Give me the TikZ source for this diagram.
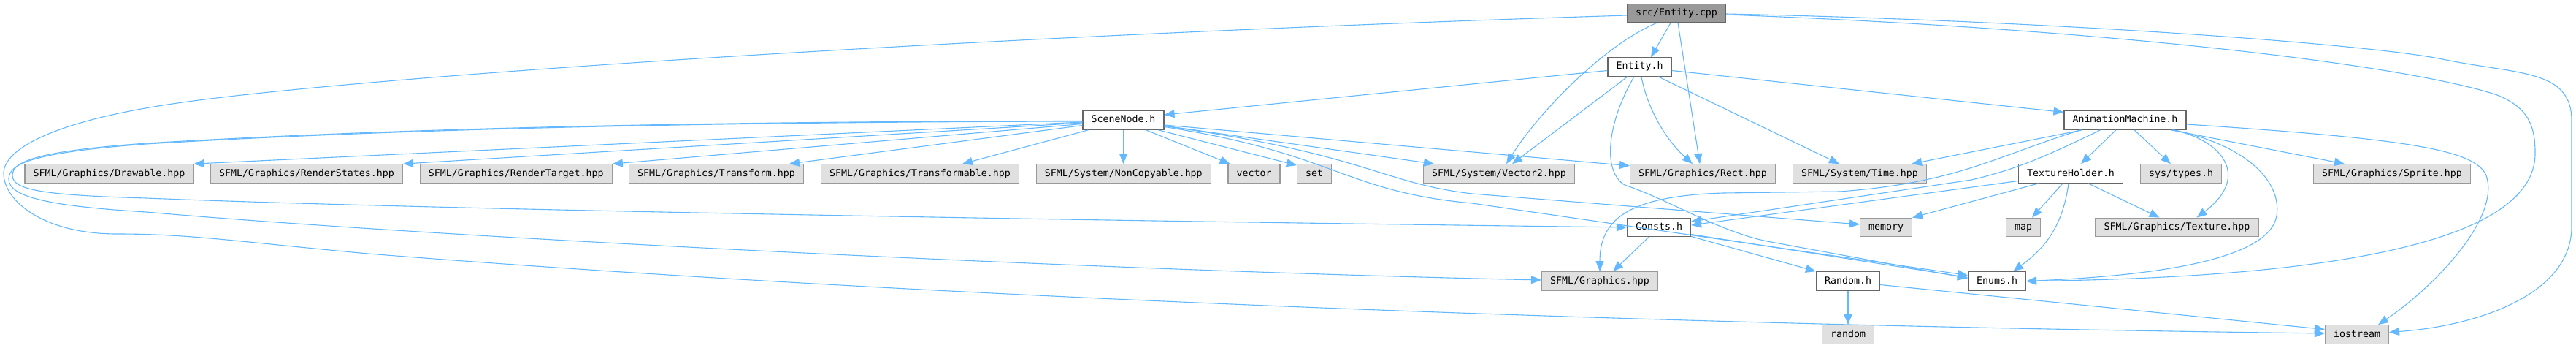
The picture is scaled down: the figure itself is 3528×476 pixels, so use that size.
\documentclass[tikz,border=0pt]{standalone}
\usepackage{fontspec}
\setmonofont{DejaVu Sans Mono}
\usepackage{tikz}
\usetikzlibrary{arrows.meta,calc}

\definecolor{edgeblue}{HTML}{63B8FF}
\definecolor{rootgray}{HTML}{999999}
\definecolor{sysgray}{HTML}{E0E0E0}

\begin{document}
\begin{tikzpicture}[
  x=0.5pt, y=-0.5pt,
  font=\ttfamily\fontsize{6.64}{8}\selectfont,
  file/.style={line width=0.6pt,inner xsep=5.75pt,inner ysep=0pt,minimum height=12.75pt,text height=5pt,text depth=1.5pt},
  rootfile/.style={file,draw=black!60,fill=rootgray},
  hdr/.style={file,draw=black!60,fill=white},
  sys/.style={file,draw=rootgray,fill=sysgray},
  incl/.style={draw=edgeblue,line width=0.55pt,-{Triangle[length=7pt,width=5.5pt]}}
]
\useasboundingbox (0,0) rectangle (3528,476);

% rows of files
\node[rootfile] (cpp) at (2296,18) {src/Entity.cpp};
\node[hdr] (entity) at (2245.5,91.5) {Entity.h};
\node[hdr] (scene) at (1538.5,164.5) {SceneNode.h};
\node[hdr] (anim) at (2910.5,164.5) {AnimationMachine.h};

\node[sys] (drawable) at (149.5,237.5) {SFML/Graphics/Drawable.hpp};
\node[sys] (rstates) at (420,237.5) {SFML/Graphics/RenderStates.hpp};
\node[sys] (rtarget) at (706.8,237.5) {SFML/Graphics/RenderTarget.hpp};
\node[sys] (transform) at (981,237.5) {SFML/Graphics/Transform.hpp};
\node[sys] (transformable) at (1260,237.5) {SFML/Graphics/Transformable.hpp};
\node[sys] (noncopy) at (1538.8,237.5) {SFML/System/NonCopyable.hpp};
\node[sys] (vector) at (1717.5,237.5) {vector};
\node[sys] (set) at (1800,237.5) {set};
\node[sys] (vec2) at (2053,237.5) {SFML/System/Vector2.hpp};
\node[sys] (rect) at (2332,237.5) {SFML/Graphics/Rect.hpp};
\node[sys] (time) at (2547,237.5) {SFML/System/Time.hpp};
\node[hdr] (texholder) at (2836,237.5) {TextureHolder.h};
\node[sys] (systypes) at (2987,237.5) {sys/types.h};
\node[sys] (sprite) at (3276,237.5) {SFML/Graphics/Sprite.hpp};

\node[hdr] (consts) at (2272,311) {Consts.h};
\node[sys] (memory) at (2583,311) {memory};
\node[sys] (map) at (2771,311) {map};
\node[sys] (texture) at (2981.5,311) {SFML/Graphics/Texture.hpp};

\node[sys] (graphics) at (2191,384.5) {SFML/Graphics.hpp};
\node[hdr] (random) at (2531,384.5) {Random.h};
\node[hdr] (enums) at (2735,384.5) {Enums.h};

\node[sys] (randomlib) at (2531,457.5) {random};
\node[sys] (iostream) at (3228,457.5) {iostream};

% src/Entity.cpp
\draw[incl] ($(cpp.south)+(-8,0)$) -- ($(entity.north)+(15.5,0)$);
\draw[incl] ($(cpp.south)+(-27,0)$) .. controls (2200,60) and (2110,150) .. ($(vec2.north)+(10,0)$);
\draw[incl] ($(cpp.south)+(2,0)$) -- ($(rect.north)+(-4,0)$);
\draw[incl] ($(cpp.west)+(0,3)$) .. controls (1300,50) and (500,105) .. (250,140)
  .. controls (70,165) and (5,205) .. (5,237)
  .. controls (5,275) and (60,320) .. (160,320)
  .. controls (260,320) and (320,330) .. (504,347)
  .. controls (1300,410) and (2300,445) .. ($(iostream.west)+(0,-1.5)$);
\draw[incl] ($(cpp.east)+(0,2)$) .. controls (2900,40) and (3300,90) .. (3420,130)
  .. controls (3465,148) and (3472,175) .. (3472,210)
  .. controls (3472,340) and (3150,380) .. (enums.east);
\draw[incl] ($(cpp.east)+(0,1)$) .. controls (2800,28) and (3250,60) .. (3350,82)
  .. controls (3450,102) and (3522,95) .. (3522,165) -- (3522,310)
  .. controls (3522,400) and (3400,445) .. ($(iostream.east)+(0,-3)$);

% Entity.h
\draw[incl] ($(entity.west)+(0,5)$) -- ($(scene.east)+(0,-7.5)$);
\draw[incl] ($(entity.east)+(0,5)$) -- ($(anim.west)+(0,-11)$);
\draw[incl] ($(entity.south)+(-16.5,0)$) -- ($(vec2.north)+(18,0)$);
\draw[incl] ($(entity.south)+(2.5,0)$) .. controls (2255,145) and (2280,190) .. ($(rect.north)+(-14,0)$);
\draw[incl] ($(entity.south)+(25.5,0)$) -- ($(time.north)+(-28,0)$);
\draw[incl] ($(entity.south)+(-7.5,0)$) .. controls (2200,170) and (2195,235) .. (2225,253)
  .. controls (2290,275) and (2350,315) .. (2420,330) -- ($(enums.west)+(0,-4)$);

% SceneNode.h
\draw[incl] ($(scene.west)+(0,2.5)$) -- (drawable.north east);
\draw[incl] ($(scene.west)+(0,3.5)$) -- (rstates.north east);
\draw[incl] ($(scene.west)+(0,5)$) -- (rtarget.north east);
\draw[incl] ($(scene.west)+(0,7)$) -- ($(transform.north east)+(-20,0)$);
\draw[incl] ($(scene.south west)+(8,0)$) -- ($(transformable.north)+(58,0)$);
\draw[incl] (scene.south) -- (scene.south |- noncopy.north);
\draw[incl] ($(scene.south)+(31,0)$) -- ($(vector.north)+(-33,0)$);
\draw[incl] ($(scene.south)+(48,0)$) -- ($(set.north west)+(0,2)$);
\draw[incl] ($(scene.east)+(0,7.5)$) -- ($(vec2.north west)+(15,0)$);
\draw[incl] ($(scene.east)+(0,6.5)$) -- ($(rect.west)+(0,-10.75)$);
\draw[incl] ($(scene.east)+(0,8)$) .. controls (1870,210) and (1890,250) .. (2016,265) -- ($(memory.west)+(0,-4)$);
\draw[incl] ($(scene.east)+(0,9)$) .. controls (1830,210) and (1840,262) .. (2016,278) -- ($(enums.west)+(0,-8)$);
\draw[incl] ($(scene.west)+(0,1)$) .. controls (900,166) and (500,178) .. (200,196)
  .. controls (45,207) and (17,222) .. (17,240)
  .. controls (17,260) and (60,267) .. (200,271)
  .. controls (600,287) and (1500,302) .. (consts.west);
\draw[incl] ($(scene.west)+(0,1.5)$) .. controls (900,167) and (500,179) .. (200,197)
  .. controls (40,209) and (12,225) .. (12,245)
  .. controls (12,270) and (70,282) .. (200,290)
  .. controls (600,325) and (1500,370) .. ($(graphics.west)+(0,-1.5)$);

% AnimationMachine.h
\draw[incl] ($(anim.south west)+(25,0)$) -- ($(time.north east)+(-21,0)$);
\draw[incl] ($(anim.south west)+(23,0)$) .. controls (2730,215) and (2680,250) .. (2520,262) -- (2360,264)
  .. controls (2230,268) and (2191,300) .. (graphics.north);
\draw[incl] ($(anim.south west)+(50,0)$) .. controls (2800,215) and (2760,232) .. (2700,246) -- ($(consts.east)+(0,-8)$);
\draw[incl] ($(anim.south)+(-12.5,0)$) -- ($(texholder.north)+(14,0)$);
\draw[incl] ($(anim.south)+(12.5,0)$) -- ($(systypes.north)+(-14,0)$);
\draw[incl] ($(anim.south east)+(-21,0)$) -- ($(sprite.north)+(-65,0)$);
\draw[incl] ($(anim.south east)+(-19,0)$) .. controls (3040,190) and (3085,240) .. ($(texture.north)+(27,0)$);
\draw[incl] ($(anim.south east)+(-17,0)$) .. controls (3080,200) and (3125,250) .. (3118,295)
  .. controls (3110,345) and (3000,375) .. (enums.east);
\draw[incl] ($(anim.east)+(0,5.5)$) .. controls (3300,190) and (3390,205) .. (3405,240)
  .. controls (3425,300) and (3330,395) .. ($(iostream.north)+(29,0)$);

% TextureHolder.h
\draw[incl] ($(texholder.west)+(0,10)$) -- ($(consts.east)+(0,-3)$);
\draw[incl] ($(texholder.south west)+(28,0)$) -- (memory.north east);
\draw[incl] ($(texholder.south)+(-11,0)$) -- ($(map.north)+(12,0)$);
\draw[incl] ($(texholder.south)+(-3,0)$) .. controls (2825,310) and (2800,340) .. ($(enums.north)+(22,0)$);
\draw[incl] ($(texholder.south)+(24,0)$) -- ($(texture.north)+(-24,0)$);

% Consts.h
\draw[incl] ($(consts.south)+(-14,0)$) -- ($(graphics.north)+(18,0)$);
\draw[incl] ($(consts.south east)+(0,-1)$) -- (random.north west);
\draw[incl] ($(consts.east)+(0,9.5)$) -- ($(enums.west)+(0,-5)$);

% Random.h
\draw[incl] (random.south) -- (randomlib.north);
\draw[incl] ($(random.east)+(0,5)$) -- ($(iostream.west)+(0,-7)$);
\end{tikzpicture}
\end{document}
